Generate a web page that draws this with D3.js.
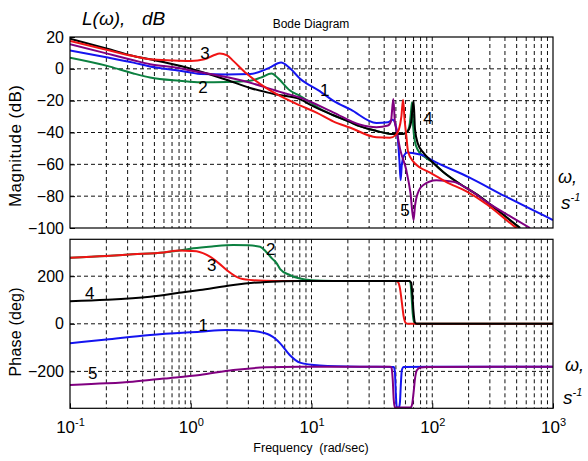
<!DOCTYPE html>
<html>
<head>
<meta charset="utf-8">
<script src="https://cdn.jsdelivr.net/npm/d3@7"></script>
<style>
  body { margin: 0; background: #fff; }
  text { font-family: "Liberation Sans", Arial, sans-serif; fill: #000; }
</style>
</head>
<body>
<svg id="chart" width="588" height="461"></svg>
<script>
// magnitude, dB (1 blue, 2 green, 3 red, 4 black, 5 purple)
const magW1 = [0.1, 0.2, 0.335, 0.46, 0.81, 1, 1.2, 2, 3.1, 4, 4.5, 5.6, 6.5, 8, 11.7, 15.1, 21, 34.5, 43, 47, 50, 52, 53.5, 54.7, 56, 58, 62, 70, 84.5, 100, 200, 400, 1000];
const mag1  = [11.5, 7.3, 3.9, 1.5, -1.2, -2.3, -3.3, -3.5, -3.3, -1, 0.8, 4, 1, -6, -14, -20, -25.5, -34, -33.5, -32, -36, -45, -58, -70, -60, -55, -52.5, -53, -54.4, -57.5, -68, -80, -95];
const magW2 = [0.1, 0.2, 0.335, 0.46, 0.81, 1.2, 2, 3.1, 3.8, 4.67, 5.3, 6.6, 8, 9.7, 12, 15, 21, 25, 34.5, 47.6, 57.3, 62, 65, 66.5, 68, 69.5, 72, 76, 85, 100, 124, 171, 235, 350, 533];
const mag2  = [7, 2, -2.9, -5.4, -7.5, -8.5, -8.3, -7.5, -5.5, -2.9, -6, -13.5, -17, -21, -25.5, -29, -33.5, -36, -39, -41, -41, -39.5, -35, -28, -21, -36, -46, -51, -55, -58.5, -65, -72.5, -79, -89, -100];
const magW3 = [0.1, 0.2, 0.335, 0.46, 0.7, 1, 1.3, 1.55, 1.74, 2, 2.25, 2.9, 4.2, 5.8, 8, 11, 15.1, 21, 34.5, 44.6, 50, 53, 55.5, 57.3, 59, 61, 63, 70, 79, 95, 130, 192, 282, 470, 520];
const mag3  = [17.5, 12, 8, 6, 5.3, 5, 6, 8.5, 9.6, 8.5, 5, -3, -12, -18, -23, -27.5, -33, -37, -43, -43.3, -41.5, -38, -30, -19.5, -32, -42, -52, -58.5, -62, -65, -71, -77, -85, -98.5, -101];
const magW4 = [0.1, 0.2, 0.335, 0.46, 0.81, 1, 2, 3.1, 5, 8, 10, 15, 21, 25, 34.5, 47.6, 57.3, 63, 67, 70, 72, 76, 85, 100, 124, 171, 235, 350, 533];
const mag4  = [19, 12.8, 8.1, 6, 1.9, 0, -7, -12, -16, -19, -23, -29, -33.5, -36, -39, -41, -41, -39, -33, -20, -38, -47, -53, -58.5, -65, -72.5, -79, -89, -100];
const magW5 = [0.1, 0.2, 0.335, 0.46, 0.81, 1, 2.7, 5.8, 8, 15.1, 25, 34.5, 43, 45.5, 47.6, 49, 50.8, 54, 61, 66, 70, 72, 78, 84.4, 108, 150, 193, 300, 450, 646];
const mag5  = [15.4, 9.7, 5.4, 2.9, 0.4, -1, -7.5, -15, -18, -27.3, -35, -36.7, -35.6, -33, -19, -33, -39, -50, -63.75, -78, -95, -86, -76, -73, -70, -71, -75, -85, -93, -100];

// phase, deg
const phW1 = [0.1, 0.2, 0.46, 1.19, 1.98, 3.1, 4, 4.5, 5, 5.5, 6.6, 8, 11.7, 25, 48, 49, 50, 50.8, 53, 54, 55, 56, 58, 100, 1000];
const ph1  = [-82, -66, -47, -33, -26, -29, -38, -47, -62, -82, -131, -163, -175, -180, -181, -200, -300, -350, -352, -330, -250, -195, -182, -180, -180];
const phW2 = [0.1, 0.2, 0.33, 0.6, 0.81, 1.05, 1.5, 2.25, 3, 3.75, 4.2, 4.7, 5.15, 5.5, 6.6, 8, 10, 15, 64, 66, 67.5, 69, 71, 74, 1000];
const ph2  = [278, 285, 292, 300, 308, 317, 325, 331, 330, 324, 303, 275, 254, 230, 205, 190, 183, 180, 180, 172, 110, 40, 5, 0, 0];
const phW3 = [0.1, 0.2, 0.33, 0.6, 0.81, 1, 1.18, 1.44, 1.7, 1.98, 2.56, 3.3, 5, 50, 52, 54, 56, 58, 60, 63, 1000];
const ph3  = [278, 285, 292, 300, 308, 306, 302, 282, 255, 226, 191, 183, 180, 180, 176, 150, 90, 30, 5, 0, 0];
const phW4 = [0.1, 0.2, 0.46, 0.8, 1.19, 2.25, 4.2, 8, 12, 65, 67, 68.5, 70, 72, 75, 1000];
const ph4  = [95, 101, 114, 130, 142, 163, 176, 180, 180, 180, 172, 120, 50, 5, 0, 0];
const phW5 = [0.1, 0.2, 0.33, 0.6, 1.19, 2.25, 4.2, 8, 45, 46, 47, 48, 49, 66, 68, 70, 72, 74.6, 80, 90, 1000];
const ph5  = [-257, -250, -243, -230, -215, -194, -183, -180, -180, -185, -230, -320, -352, -352, -340, -290, -230, -195, -184, -181, -180];

const magTicks = [20, 0, -20, -40, -60, -80, -100];
const phTicks = [200, 0, -200];
const decades = [0.1, 1, 10, 100, 1000];

// curve number labels: [text, w, value]
const magLabels = [["3", 1.31, 9.9], ["2", 1.26, -11.4], ["1", 12.9, -13.3], ["4", 92, -30.9], ["5", 59.4, -88.7]];
const phLabels = [["2", 4.59, 314], ["3", 1.49, 247], ["4", 0.146, 129], ["1", 1.27, -5], ["5", 0.154, -207]];

const colors = {1: "#1414f0", 2: "#0c8040", 3: "#f01414", 4: "#000000", 5: "#800080"};

const svg = d3.select("#chart");
const x = d3.scaleLog().domain([0.1, 1000]).range([70, 553]);
const yMag = d3.scaleLinear().domain([-100, 20]).range([228, 37]);
const yPh = d3.scaleLinear().domain([-355, 355]).range([408.3, 239.3]);

let minor = [];
[0.1, 1, 10, 100].forEach(d => { for (let k = 1; k <= 9; k++) if (k * d > 0.1) minor.push(k * d); });

function panel(y, id, ticks, series, labels) {
  const top = y.range()[1], bottom = y.range()[0];
  svg.append("clipPath").attr("id", id).append("rect")
    .attr("x", 70).attr("y", top).attr("width", 483).attr("height", bottom - top);

  let g = svg.append("g");
  g.selectAll(".vg").data(minor).enter().append("line")
    .attr("x1", d => x(d)).attr("x2", d => x(d))
    .attr("y1", top).attr("y2", bottom)
    .attr("stroke", "#111").attr("stroke-dasharray", "4,3");
  g.selectAll(".hg").data(ticks.filter(t => y(t) > top + 1 && y(t) < bottom - 1)).enter().append("line")
    .attr("x1", 70).attr("x2", 553)
    .attr("y1", d => y(d)).attr("y2", d => y(d))
    .attr("stroke", "#111").attr("stroke-dasharray", "4,3");

  let line = d3.line().x(d => x(d[0])).y(d => y(d[1])).curve(d3.curveMonotoneX);
  let lg = svg.append("g").attr("clip-path", "url(#" + id + ")");
  series.forEach(s => {
    lg.append("path")
      .attr("d", line(d3.zip(s.w, s.v)))
      .attr("fill", "none")
      .attr("stroke", colors[s.n])
      .attr("stroke-width", 2);
  });

  svg.append("rect").attr("x", 70).attr("y", top).attr("width", 483).attr("height", bottom - top)
    .attr("fill", "none").attr("stroke", "#000").attr("stroke-width", 1.2);

  svg.append("g").attr("transform", "translate(70,0)")
    .call(d3.axisLeft(y).tickValues(ticks).tickSize(-5).tickPadding(6))
    .call(a => a.select(".domain").remove())
    .call(a => a.selectAll("text").style("font-size", "16px").attr("fill", "#000")
      .style("font-family", "'Liberation Sans', Arial, sans-serif"));

  svg.append("g").selectAll("text").data(labels).enter().append("text")
    .attr("x", d => x(d[1])).attr("y", d => y(d[2]))
    .attr("dy", "0.36em").attr("text-anchor", "middle")
    .style("font-size", "17px").text(d => d[0]);
}

panel(yMag, "clipMag", magTicks, [
  {n: 2, w: magW2, v: mag2}, {n: 1, w: magW1, v: mag1}, {n: 4, w: magW4, v: mag4},
  {n: 5, w: magW5, v: mag5}, {n: 3, w: magW3, v: mag3}
], magLabels);

panel(yPh, "clipPh", phTicks, [
  {n: 2, w: phW2, v: ph2}, {n: 3, w: phW3, v: ph3}, {n: 4, w: phW4, v: ph4},
  {n: 1, w: phW1, v: ph1}, {n: 5, w: phW5, v: ph5}
], phLabels);

// frequency axis with 10^n labels
let xa = svg.append("g").attr("transform", "translate(0,408.3)")
  .call(d3.axisBottom(x).tickValues(decades).tickSize(-5).tickFormat(() => ""));
xa.select(".domain").remove();
xa.selectAll(".tick text").each(function(d) {
  let t = d3.select(this).attr("y", 25).attr("dy", null)
    .style("font-size", "17px").style("font-family", "'Liberation Sans', Arial, sans-serif").attr("fill", "#000");
  t.text("10");
  t.append("tspan").attr("dy", "-0.65em").style("font-size", "11px").text(Math.round(Math.log10(d)));
});

// texts
svg.append("text").attr("x", 82).attr("y", 25).style("font-size", "19px").style("font-style", "italic").text("L(ω),");
svg.append("text").attr("x", 142).attr("y", 25).style("font-size", "19px").style("font-style", "italic").text("dB");
svg.append("text").attr("x", 311).attr("y", 28).attr("text-anchor", "middle").style("font-size", "12px").text("Bode Diagram");
svg.append("text").attr("transform", "translate(21,146) rotate(-90)").attr("text-anchor", "middle")
  .style("font-size", "17px").attr("textLength", 122).text("Magnitude (dB)");
svg.append("text").attr("transform", "translate(21,332) rotate(-90)").attr("text-anchor", "middle")
  .style("font-size", "16px").attr("textLength", 89).text("Phase (deg)");
svg.append("text").attr("x", 311).attr("y", 452).attr("text-anchor", "middle")
  .style("font-size", "12.5px").style("white-space", "pre").text("Frequency  (rad/sec)");

function unitLabel(xw, yw, xs, ys) {
  svg.append("text").attr("x", xw).attr("y", yw).style("font-size", "18px").style("font-style", "italic").text("ω,");
  let s = svg.append("text").attr("x", xs).attr("y", ys).style("font-size", "19px").style("font-style", "italic").text("s");
  s.append("tspan").attr("dy", -8).style("font-size", "11px").text("-1");
}
unitLabel(558, 183, 561, 209);
unitLabel(565, 371, 563, 404);
</script>
</body>
</html>
